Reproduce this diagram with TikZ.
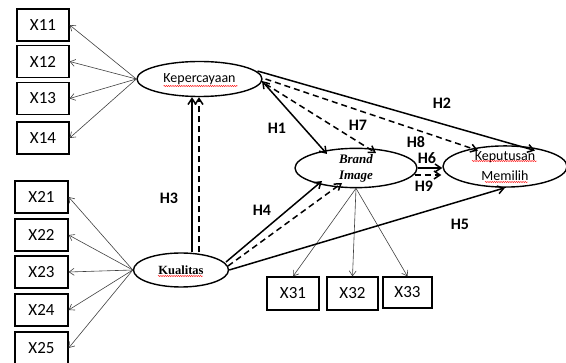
\documentclass[tikz,border=0pt]{standalone}
\usepackage{fontspec}
\setmainfont{Carlito}
\newfontfamily\serifface{Liberation Serif}
\usetikzlibrary{arrows.meta,calc,shapes.geometric,decorations.pathmorphing}
\begin{document}
\begin{tikzpicture}[x=1pt,y=-1pt,
 box/.style={draw,line width=1.3pt,minimum width=52pt,minimum height=32pt,inner sep=0pt,font=\fontsize{17}{17}\selectfont},
 lv/.style={draw,ellipse,line width=1.4pt,inner sep=0pt},
 ind/.style={line width=0.6pt,draw=black!75,-{Straight Barb[length=5pt,width=7pt]}},
 hyp/.style={line width=1.5pt,-{Straight Barb[length=6pt,width=8pt]}},
 hypboth/.style={line width=1.5pt,{Straight Barb[length=6pt,width=8pt]}-{Straight Barb[length=6pt,width=8pt]}},
 hypd/.style={hyp,dash pattern=on 6pt off 4pt},
 lab/.style={font=\bfseries\fontsize{16}{16}\selectfont,inner sep=0pt},
 squig/.style={red,line width=0.4pt,decorate,decoration={snake,amplitude=0.6pt,segment length=2.2pt}}
]
\useasboundingbox (0,0) rectangle (566,363);

% indicator boxes
\node[box] (x11) at (43,25) {X11};
\node[box] (x12) at (43,61.5) {X12};
\node[box] (x13) at (43,98.5) {X13};
\node[box] (x14) at (43,138) {X14};
\node[box,minimum width=53pt] (x21) at (41.5,197) {X21};
\node[box,minimum width=53pt] (x22) at (41.5,235) {X22};
\node[box,minimum width=53pt] (x23) at (41.5,272) {X23};
\node[box,minimum width=53pt] (x24) at (41.5,310) {X24};
\node[box,minimum width=53pt] (x25) at (41.5,348) {X25};
\node[box,minimum height=33pt] (x31) at (293,293.5) {X31};
\node[box,minimum width=51pt,minimum height=33pt] (x32) at (352.5,293.5) {X32};
\node[box,minimum width=49pt,minimum height=31pt] (x33) at (407.5,292.5) {X33};

% latent variables
\node[lv,minimum width=125pt,minimum height=35pt,font=\fontsize{14}{14}\selectfont] (kep) at (199.5,79) {Kepercayaan};
\node[lv,minimum width=95pt,minimum height=34pt,font=\serifface\bfseries\fontsize{12.5}{13}\selectfont] (kual) at (181,270) {Kualitas};
\node[lv,minimum width=122pt,minimum height=31pt,align=center,font=\serifface\bfseries\itshape\fontsize{13}{16}\selectfont] (bi) at (356,168) {Brand\\Image};
\node[lv,minimum width=124pt,minimum height=37pt,align=center,font=\fontsize{14}{20}\selectfont] (kp) at (505,166.5) {Keputusan\\Memilih};

% spell-check marks
\draw[squig] ($(kep.center)+(-36,7)$) -- ($(kep.center)+(38,7)$);
\draw[squig] ($(kp.center)+(-33,-5.5)$) -- ($(kp.center)+(32,-5.5)$);
\draw[squig] ($(kp.center)+(-20,15.5)$) -- ($(kp.center)+(23,15.5)$);
\draw[squig] ($(kual.center)+(-23,6)$) -- ($(kual.center)+(22,6)$);

% indicator arrows
\foreach \n in {x11,x12,x13,x14} \draw[ind] (kep.west) -- (\n.east);
\foreach \n in {x21,x22,x23,x24,x25} \draw[ind] (kual.west) -- (\n.east);
\foreach \n in {x31,x32,x33} \draw[ind] (bi.south) -- (\n.north);

% hypotheses
\draw[hyp] (192,0 |- kual.north) -- (192,0 |- kep.south);
\draw[hypd] (199,0 |- kual.north) -- (199,0 |- kep.south);
\draw[hypboth] ($(kep.center)+(62.5,2)$) -- ($(bi.center)+(-29,-14)$);
\draw[hypd] ($(kep.center)+(66,5)$) -- ($(bi.center)+(20,-15)$);
\draw[hypd] ($(kep.center)+(66,0)$) -- ($(kp.center)+(-27,-16)$);
\draw[hyp] ($(kep.center)+(58,-8)$) -- ($(kp.center)+(30,-16)$);
\draw[hyp] (bi.east) -- (bi.east -| kp.west);
\draw[hypd] ($(bi.east)+(-3,7)$) -- ($(kp.west)+(-1,8.5)$);
\draw[hyp] ($(kual.center)+(45,-8)$) -- ($(bi.center)+(-34,13)$);
\draw[hypd] ($(kual.center)+(47,-4)$) -- ($(bi.center)+(-14,15)$);
\draw[hyp] (kual.east) -- (kp.south);

% labels
\node[lab] (h1) at (277,128) {H1};
\node[lab] (h2) at (442,103) {H2};
\node[lab] (h3) at (169,198) {H3};
\node[lab] (h4) at (262,210) {H4};
\node[lab] (h5) at (460,224) {H5};
\node[lab] (h6) at (427,158) {H6};
\node[lab] (h7) at (358,125) {H7};
\node[lab] (h8) at (416,142) {H8};
\node[lab] (h9) at (424,186) {H9};
\end{tikzpicture}
\end{document}
